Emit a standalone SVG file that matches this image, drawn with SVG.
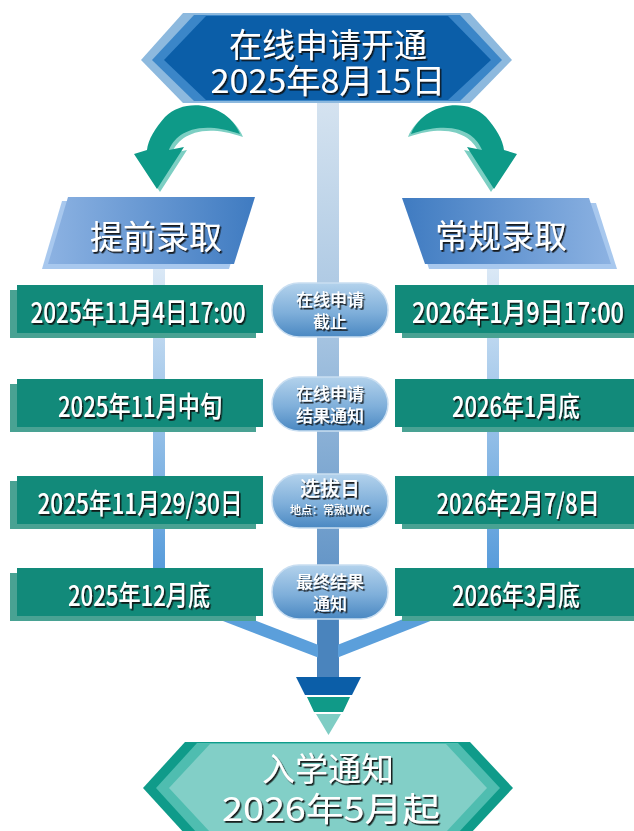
<svg xmlns="http://www.w3.org/2000/svg" width="634" height="831" viewBox="0 0 634 831">
<defs>
<style>
text{font-family:"Noto Sans CJK SC","Noto Sans",sans-serif;fill:#fff;text-anchor:middle;dominant-baseline:central}
.big{font-size:33px}
.date{font-size:28px;font-weight:500}
.pill{font-size:17px;font-weight:500}
.front{fill:#128a7a}
.back{fill:#49a293}
.pillbg{fill:url(#pillG);stroke:#c9def1;stroke-width:1.5}
.sh{filter:url(#ts)}
</style>
<filter id="ts" x="-10%" y="-30%" width="125%" height="170%"><feDropShadow dx="1.5" dy="1.8" stdDeviation="0.4" flood-color="#111" flood-opacity="0.9"/></filter>
<linearGradient id="centerG" gradientUnits="userSpaceOnUse" x1="0" y1="100" x2="0" y2="680"><stop offset="0" stop-color="#d5e3f0"/><stop offset="0.4" stop-color="#a6c4e1"/><stop offset="1" stop-color="#4680bb"/></linearGradient>
<linearGradient id="sideG" gradientUnits="userSpaceOnUse" x1="0" y1="265" x2="0" y2="600"><stop offset="0" stop-color="#dce9f6"/><stop offset="1" stop-color="#4a94d8"/></linearGradient>
<linearGradient id="pillG" x1="0" y1="0" x2="0" y2="1"><stop offset="0" stop-color="#b3d2ec"/><stop offset="0.55" stop-color="#7fafda"/><stop offset="1" stop-color="#4a88c2"/></linearGradient>
<linearGradient id="lblL" x1="0" y1="0" x2="1" y2="0"><stop offset="0" stop-color="#8cb2e2"/><stop offset="1" stop-color="#3f7bc1"/></linearGradient>
<linearGradient id="lblR" x1="0" y1="0" x2="1" y2="0"><stop offset="0" stop-color="#3f7bc1"/><stop offset="1" stop-color="#8cb2e2"/></linearGradient>
<path id="arrow" d="M240,134 C228,104 186,96 165,117 C155,128 148,140 147,150 L134,154 L157,189 L184,147 L169,150 C174,136 194,118 240,134 Z"/>
</defs>

<g id="connectors">
<rect x="317" y="98" width="22" height="580" fill="url(#centerG)"/>
<rect x="153" y="262" width="12" height="330" fill="url(#sideG)"/>
<rect x="487" y="262" width="12" height="330" fill="url(#sideG)"/>
<line x1="159" y1="590" x2="328" y2="655" stroke="#5b9fdb" stroke-width="12"/>
<line x1="493" y1="590" x2="328" y2="655" stroke="#5b9fdb" stroke-width="12"/>
<rect x="318" y="600" width="20" height="78" fill="#4a84bd"/>
<g id="arrow-left">
<use href="#arrow" transform="translate(3,3)" fill="#7dcfc3"/>
<use href="#arrow" fill="#0e9a88"/>
</g>
<g id="arrow-right" transform="translate(651,0) scale(-1,1)">
<use href="#arrow" transform="translate(3,3)" fill="#7dcfc3"/>
<use href="#arrow" fill="#0e9a88"/>
</g>
<g id="funnel">
<polygon points="296,677 361,677 352,695 305,695" fill="#0b5ea8"/>
<polygon points="307,697 350,697 343,712 314,712" fill="#109a88"/>
<polygon points="316,714 341,714 328.5,735" fill="#7fcdc4"/>
</g>
</g>

<g id="start">
<polygon points="141,60 183,13 470,13 512,60 470,103 183,103" fill="#8db9de"/>
<polygon points="152,60 194,15 460,15 502,60 460,101 194,101" fill="#3b86c8"/>
<polygon points="164,60 206,16 448,16 491,60 448,100 206,100" fill="#0b5ea8"/>
<g class="sh">
<text class="big" x="328" y="43">在线申请开通</text>
<text class="big" x="328" y="79" textLength="235" lengthAdjust="spacingAndGlyphs">2025年8月15日</text>
</g>
</g>

<g id="early">
<polygon points="62,201 250,201 229,269 42,269" fill="#a8c8ee"/>
<polygon points="68,197 255,197 234,264 48,264" fill="url(#lblL)"/>
<text class="big sh" x="156" y="235">提前录取</text>
</g>
<g id="regular">
<polygon points="408,203 596,203 617,269 429,269" fill="#a8c8ee"/>
<polygon points="402,198 589,198 611,264 425,264" fill="url(#lblR)"/>
<text class="big sh" x="501" y="234">常规录取</text>
</g>

<g id="early-1"><rect class="back" x="10" y="290" width="246" height="48"/><rect class="front" x="17" y="285" width="246" height="48"/><text class="date sh" x="138" y="311" textLength="215" lengthAdjust="spacingAndGlyphs">2025年11月4日17:00</text></g>
<g id="early-2"><rect class="back" x="10" y="384" width="246" height="48"/><rect class="front" x="17" y="379" width="246" height="48"/><text class="date sh" x="140" y="405" textLength="164" lengthAdjust="spacingAndGlyphs">2025年11月中旬</text></g>
<g id="early-3"><rect class="back" x="10" y="481" width="246" height="48"/><rect class="front" x="17" y="476" width="246" height="48"/><text class="date sh" x="140" y="502" textLength="205" lengthAdjust="spacingAndGlyphs">2025年11月29/30日</text></g>
<g id="early-4"><rect class="back" x="10" y="573" width="246" height="48"/><rect class="front" x="17" y="568" width="246" height="48"/><text class="date sh" x="139" y="594" textLength="142" lengthAdjust="spacingAndGlyphs">2025年12月底</text></g>

<g id="regular-1"><rect class="back" x="402" y="290" width="232" height="48"/><rect class="front" x="395" y="285" width="239" height="48"/><text class="date sh" transform="translate(518,311) scale(0.86,1)" x="0" y="0" textLength="246.5" lengthAdjust="spacingAndGlyphs">2026年1月9日17:00</text></g>
<g id="regular-2"><rect class="back" x="402" y="384" width="232" height="48"/><rect class="front" x="395" y="379" width="239" height="48"/><text class="date sh" x="516" y="405" textLength="128" lengthAdjust="spacingAndGlyphs">2026年1月底</text></g>
<g id="regular-3"><rect class="back" x="402" y="481" width="232" height="48"/><rect class="front" x="395" y="476" width="239" height="48"/><text class="date sh" transform="translate(518,502) scale(0.8,1)" x="0" y="0" textLength="204" lengthAdjust="spacingAndGlyphs">2026年2月7/8日</text></g>
<g id="regular-4"><rect class="back" x="402" y="573" width="232" height="48"/><rect class="front" x="395" y="568" width="239" height="48"/><text class="date sh" x="516" y="594" textLength="128" lengthAdjust="spacingAndGlyphs">2026年3月底</text></g>

<g id="stage-1"><rect class="pillbg" x="272" y="283" width="116" height="54" rx="27"/><g class="sh"><text class="pill" x="330" y="298">在线申请</text><text class="pill" x="330" y="320">截止</text></g></g>
<g id="stage-2"><rect class="pillbg" x="272" y="377" width="116" height="54" rx="27"/><g class="sh"><text class="pill" x="330" y="392">在线申请</text><text class="pill" x="330" y="414">结果通知</text></g></g>
<g id="stage-3"><rect class="pillbg" x="272" y="474" width="116" height="54" rx="27"/><g class="sh"><text x="330" y="487" style="font-size:20px;font-weight:500">选拔日</text><text x="330" y="509" style="font-size:11px;font-weight:500">地点：常熟UWC</text></g></g>
<g id="stage-4"><rect class="pillbg" x="272" y="565" width="116" height="54" rx="27"/><g class="sh"><text class="pill" x="330" y="580">最终结果</text><text class="pill" x="330" y="602">通知</text></g></g>

<g id="admission">
<polygon points="143,788 185,742 470,742 513,788 470,834 185,834" fill="#0f9b8a"/>
<polygon points="156,788 197,743 458,743 500,788 458,833 197,833" fill="#4fbdb0"/>
<polygon points="169,788 210,744 446,744 487,788 446,832 210,832" fill="#82cfc7"/>
<g class="sh">
<text class="big" x="328" y="767">入学通知</text>
<text class="big" x="331" y="807" textLength="218" lengthAdjust="spacingAndGlyphs">2026年5月起</text>
</g>
</g>
</svg>
